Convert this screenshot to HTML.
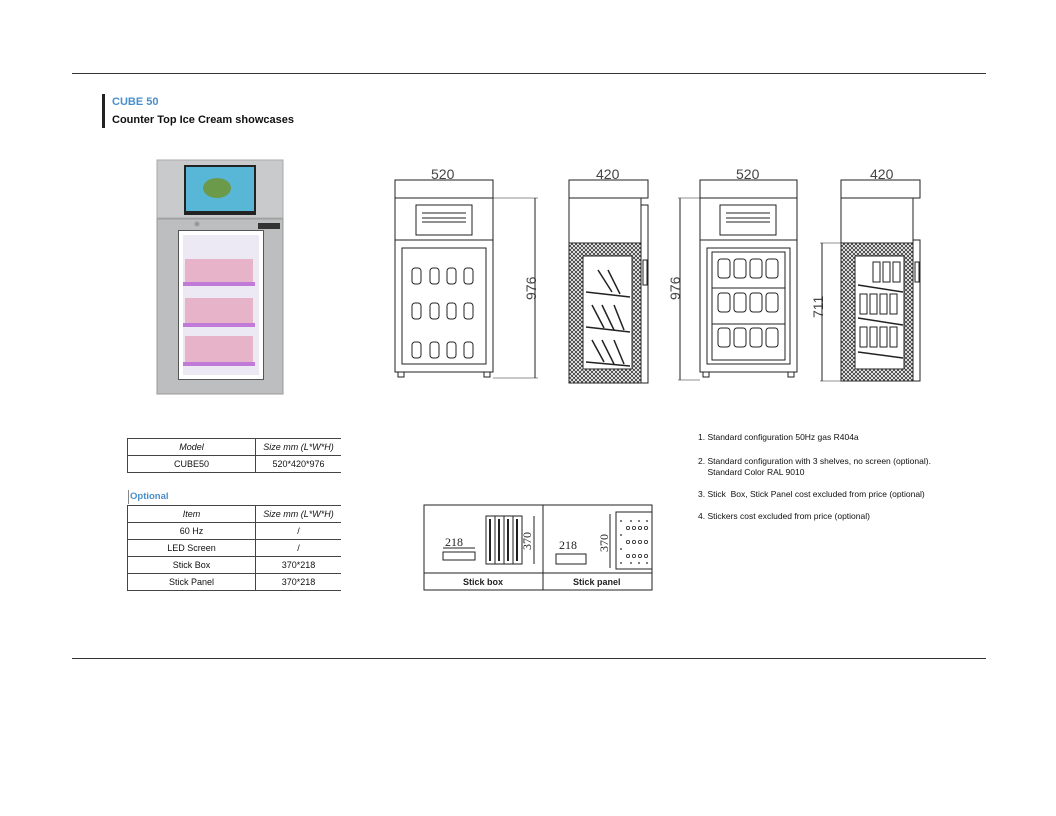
<!DOCTYPE html>
<html><head><meta charset="utf-8"><style>
body{margin:0;width:1056px;height:816px;background:#fff;position:relative;overflow:hidden;font-family:"Liberation Sans",sans-serif;color:#111}
.a{position:absolute}
table{border-collapse:collapse;font-size:9px}
td{height:16px;text-align:center;border-top:1px solid #444;border-bottom:1px solid #444;padding:0}
td+td{border-left:1px solid #444}
.n{font-size:8.5px;line-height:11px}
</style></head><body>
<div class="a" style="left:72px;top:73px;width:914px;height:1px;background:#333"></div>
<div class="a" style="left:72px;top:658px;width:914px;height:1px;background:#333"></div>
<div class="a" style="left:102px;top:94px;width:3px;height:34px;background:#222"></div>
<div class="a" style="left:112px;top:96px;font-size:11px;font-weight:bold;color:#4a8fcb">CUBE 50</div>
<div class="a" style="left:112px;top:114px;font-size:11px;font-weight:bold">Counter Top Ice Cream showcases</div>

<!-- photo -->
<svg class="a" style="left:155px;top:158px" width="132" height="240">
<rect x="2" y="2" width="126" height="58" fill="#c9cacc" stroke="#aaa"/>
<rect x="29" y="7" width="72" height="50" fill="#222"/>
<rect x="31" y="9" width="68" height="44" fill="#58b7d6"/>
<ellipse cx="62" cy="30" rx="14" ry="10" fill="#6a9a4a"/>
<rect x="2" y="61" width="126" height="175" fill="#bdbec0" stroke="#999"/>
<rect x="23" y="72" width="86" height="150" fill="#555"/>
<rect x="26" y="75" width="80" height="144" fill="#ece8f4" stroke="#fff" stroke-width="4"/>
<g fill="#e7b3c8"><rect x="30" y="101" width="68" height="24"/><rect x="30" y="140" width="68" height="26"/><rect x="30" y="178" width="68" height="26"/></g>
<g fill="#c07ad8"><rect x="28" y="124" width="72" height="4"/><rect x="28" y="165" width="72" height="4"/><rect x="28" y="204" width="72" height="4"/></g>
<rect x="103" y="65" width="22" height="6" fill="#333"/><circle cx="42" cy="66" r="2.5" fill="#999"/>
</svg>

<!-- drawings -->
<svg class="a" style="left:0;top:0" width="1056" height="400" fill="none" stroke="#222" stroke-width="1" font-family="Liberation Sans" >
<defs><pattern id="h" width="4" height="4" patternUnits="userSpaceOnUse"><path d="M0 0L4 4M4 0L0 4" stroke="#333" stroke-width="0.8"/></pattern></defs>
<g font-size="14" fill="#444" stroke="none"><text x="431" y="179">520</text><text x="596" y="179">420</text><text x="736" y="179">520</text><text x="870" y="179">420</text>
<text transform="translate(536,300) rotate(-90)">976</text><text transform="translate(680,300) rotate(-90)">976</text><text transform="translate(823,318) rotate(-90)">711</text></g>
<!-- D1 -->
<line x1="395" y1="180" x2="493" y2="180"/><rect x="395" y="180" width="98" height="18"/><rect x="395" y="198" width="98" height="42"/>
<rect x="416" y="205" width="56" height="30"/><line x1="422" y1="213" x2="466" y2="213"/><line x1="422" y1="218" x2="466" y2="218"/><line x1="422" y1="222" x2="466" y2="222"/>
<rect x="395" y="240" width="98" height="132"/><rect x="402" y="248" width="84" height="116"/><line x1="493" y1="198" x2="538" y2="198" stroke-width=".5"/><line x1="535" y1="198" x2="535" y2="378"/><line x1="493" y1="378" x2="538" y2="378" stroke-width=".5"/>
<rect x="398" y="372" width="6" height="5"/><rect x="484" y="372" width="6" height="5"/>
<g><rect x="412" y="268" width="9" height="16" rx="3"/><rect x="430" y="268" width="9" height="16" rx="3"/><rect x="447" y="268" width="9" height="16" rx="3"/><rect x="464" y="268" width="9" height="16" rx="3"/>
<rect x="412" y="303" width="9" height="16" rx="3"/><rect x="430" y="303" width="9" height="16" rx="3"/><rect x="447" y="303" width="9" height="16" rx="3"/><rect x="464" y="303" width="9" height="16" rx="3"/>
<rect x="412" y="342" width="9" height="16" rx="3"/><rect x="430" y="342" width="9" height="16" rx="3"/><rect x="447" y="342" width="9" height="16" rx="3"/><rect x="464" y="342" width="9" height="16" rx="3"/></g>
<!-- D2 -->
<line x1="569" y1="180" x2="648" y2="180"/><rect x="569" y="180" width="79" height="18"/><rect x="569" y="198" width="72" height="45"/>
<rect x="569" y="243" width="72" height="140" fill="url(#h)"/><rect x="583" y="256" width="49" height="113" fill="#fff"/>
<rect x="641" y="205" width="7" height="178"/><rect x="643" y="260" width="4" height="25"/>
<g stroke-width="1.5"><line x1="586" y1="292" x2="630" y2="297"/><line x1="586" y1="327" x2="630" y2="332"/><line x1="586" y1="362" x2="630" y2="366"/>
<line x1="598" y1="270" x2="612" y2="292"/><line x1="608" y1="270" x2="620" y2="294"/><line x1="592" y1="305" x2="604" y2="328"/><line x1="602" y1="305" x2="614" y2="330"/><line x1="614" y1="305" x2="624" y2="330"/>
<line x1="592" y1="340" x2="604" y2="362"/><line x1="602" y1="340" x2="614" y2="364"/><line x1="614" y1="340" x2="624" y2="364"/></g>
<!-- D3 -->
<line x1="700" y1="180" x2="797" y2="180"/><rect x="700" y="180" width="97" height="18"/><rect x="700" y="198" width="97" height="42"/>
<rect x="720" y="205" width="56" height="30"/><line x1="726" y1="213" x2="770" y2="213"/><line x1="726" y1="218" x2="770" y2="218"/><line x1="726" y1="222" x2="770" y2="222"/>
<rect x="700" y="240" width="97" height="132"/><rect x="707" y="248" width="83" height="116"/><rect x="712" y="252" width="73" height="108"/>
<line x1="678" y1="198" x2="700" y2="198" stroke-width=".5"/><line x1="680" y1="198" x2="680" y2="380"/><line x1="678" y1="380" x2="700" y2="380" stroke-width=".5"/>
<rect x="703" y="372" width="6" height="5"/><rect x="788" y="372" width="6" height="5"/>
<line x1="712" y1="288" x2="785" y2="288"/><line x1="712" y1="324" x2="785" y2="324"/>
<g><rect x="718" y="259" width="12" height="19" rx="3"/><rect x="734" y="259" width="12" height="19" rx="3"/><rect x="750" y="259" width="12" height="19" rx="3"/><rect x="766" y="259" width="12" height="19" rx="3"/>
<rect x="718" y="293" width="12" height="19" rx="3"/><rect x="734" y="293" width="12" height="19" rx="3"/><rect x="750" y="293" width="12" height="19" rx="3"/><rect x="766" y="293" width="12" height="19" rx="3"/>
<rect x="718" y="328" width="12" height="19" rx="3"/><rect x="734" y="328" width="12" height="19" rx="3"/><rect x="750" y="328" width="12" height="19" rx="3"/><rect x="766" y="328" width="12" height="19" rx="3"/></g>
<!-- D4 -->
<line x1="841" y1="180" x2="920" y2="180"/><rect x="841" y="180" width="79" height="18"/><rect x="841" y="198" width="72" height="45"/>
<rect x="841" y="243" width="72" height="138" fill="url(#h)"/><rect x="855" y="256" width="49" height="113" fill="#fff"/>
<rect x="913" y="240" width="7" height="141"/><rect x="915" y="262" width="4" height="20"/>
<line x1="820" y1="243" x2="841" y2="243" stroke-width=".5"/><line x1="822" y1="243" x2="822" y2="381"/><line x1="820" y1="381" x2="841" y2="381" stroke-width=".5"/>
<g stroke-width="1.5"><line x1="858" y1="285" x2="903" y2="292"/><line x1="858" y1="318" x2="903" y2="325"/><line x1="858" y1="352" x2="903" y2="358"/></g>
<g><rect x="873" y="262" width="7" height="20"/><rect x="883" y="262" width="7" height="20"/><rect x="893" y="262" width="7" height="20"/>
<rect x="860" y="294" width="7" height="20"/><rect x="870" y="294" width="7" height="20"/><rect x="880" y="294" width="7" height="20"/><rect x="890" y="294" width="7" height="20"/>
<rect x="860" y="327" width="7" height="20"/><rect x="870" y="327" width="7" height="20"/><rect x="880" y="327" width="7" height="20"/><rect x="890" y="327" width="7" height="20"/></g>
</svg>

<!-- tables -->
<table class="a" style="left:127px;top:438px;width:214px">
<tr><td style="width:127px;font-style:italic;border-left:1px solid #444">Model</td><td style="font-style:italic">Size mm (L*W*H)</td></tr>
<tr><td style="border-left:1px solid #444">CUBE50</td><td>520*420*976</td></tr></table>
<div class="a" style="left:128px;top:490px;width:1px;height:14px;background:#888"></div>
<div class="a" style="left:130px;top:491px;font-size:9.5px;font-weight:bold;color:#4a8fcb">Optional</div>
<table class="a" style="left:127px;top:505px;width:214px">
<tr><td style="width:127px;font-style:italic;border-left:1px solid #444">Item</td><td style="font-style:italic">Size mm (L*W*H)</td></tr>
<tr><td style="border-left:1px solid #444">60 Hz</td><td>/</td></tr>
<tr><td style="border-left:1px solid #444">LED Screen</td><td>/</td></tr>
<tr><td style="border-left:1px solid #444">Stick Box</td><td>370*218</td></tr>
<tr><td style="border-left:1px solid #444">Stick Panel</td><td>370*218</td></tr></table>

<!-- stick panel box -->
<svg class="a" style="left:423px;top:504px" width="232" height="90" fill="none" stroke="#222" font-family="Liberation Serif">
<rect x="1" y="1" width="228" height="85"/><line x1="120" y1="1" x2="120" y2="86"/><line x1="1" y1="69" x2="229" y2="69"/>
<text x="22" y="42" font-size="12" fill="#222" stroke="none">218</text>
<line x1="20" y1="44" x2="52" y2="44"/><rect x="20" y="48" width="32" height="8"/>
<rect x="63" y="12" width="36" height="48"/><line x1="72" y1="12" x2="72" y2="60"/><line x1="81" y1="12" x2="81" y2="60"/><line x1="90" y1="12" x2="90" y2="60"/>
<g stroke-width="2"><line x1="67" y1="15" x2="67" y2="57"/><line x1="76" y1="15" x2="76" y2="57"/><line x1="85" y1="15" x2="85" y2="57"/><line x1="94" y1="15" x2="94" y2="57"/></g>
<line x1="111" y1="12" x2="111" y2="60"/><text transform="translate(108,46) rotate(-90)" font-size="12" fill="#222" stroke="none">370</text>
<text x="136" y="45" font-size="12" fill="#222" stroke="none">218</text><rect x="133" y="50" width="30" height="10"/>
<line x1="187" y1="10" x2="187" y2="64"/><text transform="translate(185,48) rotate(-90)" font-size="12" fill="#222" stroke="none">370</text>
<rect x="193" y="8" width="36" height="57"/>
<g stroke-width=".8">
<circle cx="205" cy="24" r="1.6"/><circle cx="211" cy="24" r="1.6"/><circle cx="217" cy="24" r="1.6"/><circle cx="223" cy="24" r="1.6"/>
<circle cx="205" cy="38" r="1.6"/><circle cx="211" cy="38" r="1.6"/><circle cx="217" cy="38" r="1.6"/><circle cx="223" cy="38" r="1.6"/>
<circle cx="205" cy="52" r="1.6"/><circle cx="211" cy="52" r="1.6"/><circle cx="217" cy="52" r="1.6"/><circle cx="223" cy="52" r="1.6"/></g>
<g fill="#222" stroke="none"><circle cx="198" cy="17" r=".9"/><circle cx="198" cy="31" r=".9"/><circle cx="198" cy="45" r=".9"/><circle cx="198" cy="59" r=".9"/>
<circle cx="208" cy="17" r=".9"/><circle cx="216" cy="17" r=".9"/><circle cx="224" cy="17" r=".9"/><circle cx="208" cy="59" r=".9"/><circle cx="216" cy="59" r=".9"/><circle cx="224" cy="59" r=".9"/></g>
<g fill="#222" stroke="none" font-family="Liberation Sans" font-weight="bold" font-size="9"><text x="40" y="81">Stick box</text><text x="150" y="81">Stick panel</text></g>
</svg>

<div class="a n" style="left:698px;top:432px">1. Standard configuration 50Hz gas R404a</div>
<div class="a n" style="left:698px;top:456px">2. Standard configuration with 3 shelves, no screen (optional).<br>&nbsp;&nbsp;&nbsp;&nbsp;Standard Color RAL 9010</div>
<div class="a n" style="left:698px;top:489px">3. Stick &nbsp;Box, Stick Panel cost excluded from price (optional)</div>
<div class="a n" style="left:698px;top:511px">4. Stickers cost excluded from price (optional)</div>
</body></html>
